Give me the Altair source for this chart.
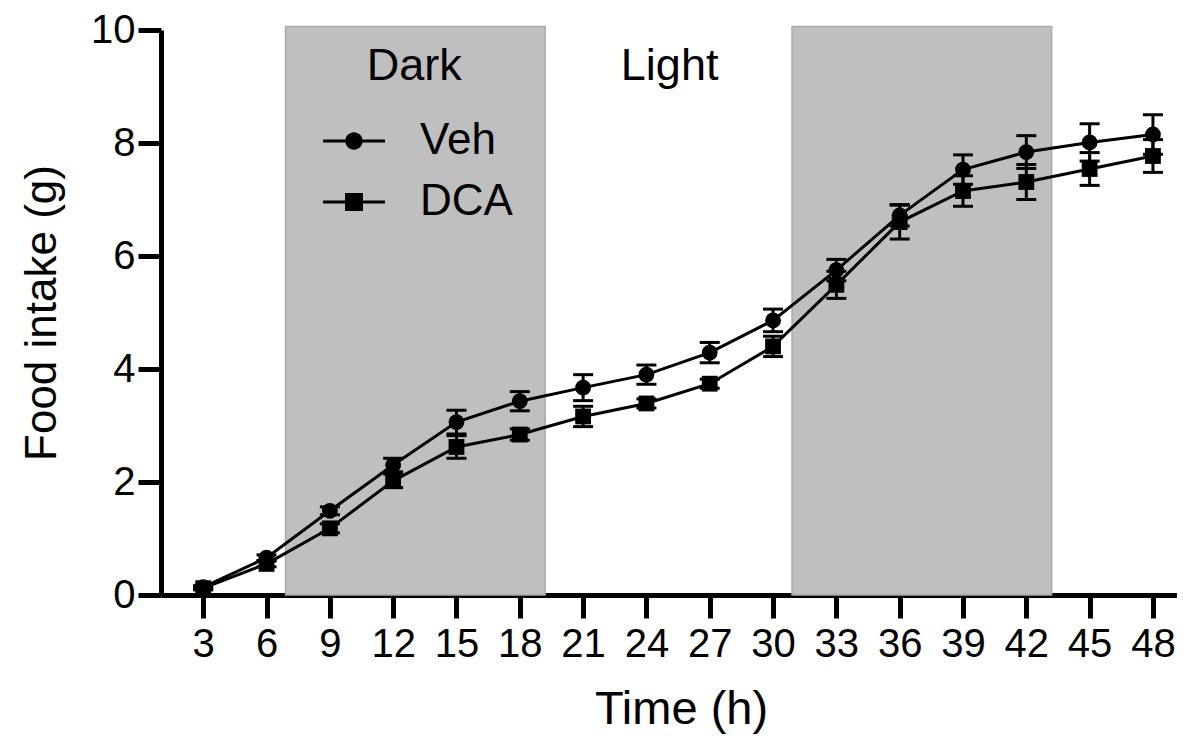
import altair as alt
import pandas as pd

# ---- data ----
hours = [3, 6, 9, 12, 15, 18, 21, 24, 27, 30, 33, 36, 39, 42, 45, 48]
veh_mean = [0.14, 0.66, 1.49, 2.30, 3.06, 3.43, 3.67, 3.90, 4.29, 4.86, 5.75, 6.72, 7.53, 7.84, 8.01, 8.15]
veh_sem = [0.03, 0.05, 0.07, 0.12, 0.21, 0.17, 0.23, 0.17, 0.18, 0.20, 0.19, 0.19, 0.26, 0.29, 0.33, 0.35]
dca_mean = [0.12, 0.55, 1.18, 2.02, 2.62, 2.84, 3.16, 3.39, 3.74, 4.40, 5.49, 6.60, 7.15, 7.31, 7.54, 7.77]
dca_sem = [0.03, 0.05, 0.08, 0.12, 0.20, 0.10, 0.18, 0.08, 0.08, 0.18, 0.24, 0.30, 0.27, 0.31, 0.29, 0.29]
groups = ["Veh", "DCA"]

dark_start = [6.9, 30.9]
dark_end = [19.2, 43.2]
dark_top = 10.06

phase_labels = ["Dark", "Light"]
phase_x = [13.0, 25.1]
phase_y = [9.12, 9.12]

x_ticks = hours
y_ticks = [0, 2, 4, 6, 8, 10]

# ---- tables ----
rows = []
for g, m, s in (("Veh", veh_mean, veh_sem), ("DCA", dca_mean, dca_sem)):
    for h, mv, sv in zip(hours, m, s):
        rows.append({"time": h, "group": g, "mean": mv, "lo": mv - sv, "hi": mv + sv})
df = pd.DataFrame(rows)
shade_df = pd.DataFrame({"x": dark_start, "x2": dark_end, "y": [0, 0], "y2": [dark_top, dark_top]})
label_df = pd.DataFrame({"text": phase_labels, "x": phase_x, "y": phase_y})

FONT = "Liberation Sans"

xscale = alt.Scale(domain=[1, 49.14], nice=False, zero=False)
yscale = alt.Scale(domain=[0, 10], nice=False)

x_enc = alt.X("time:Q", scale=xscale,
              axis=alt.Axis(values=x_ticks, format="d", title="Time (h)", titleX=520))
y_enc = alt.Y("mean:Q", scale=yscale,
              axis=alt.Axis(values=y_ticks, format="d", title="Food intake (g)"))

shade = alt.Chart(shade_df).mark_rect(
    fill="#bfbfbf", stroke="#a9a9a9", strokeWidth=1.5, clip=False
).encode(
    x=alt.X("x:Q", scale=xscale), x2="x2:Q",
    y=alt.Y("y:Q", scale=yscale), y2="y2:Q"
)

phase_text = alt.Chart(label_df).mark_text(
    font=FONT, fontSize=45, color="black", baseline="alphabetic", align="center"
).encode(
    x=alt.X("x:Q", scale=xscale), y=alt.Y("y:Q", scale=yscale), text="text:N"
)

base = alt.Chart(df)

lines = base.mark_line(color="black", strokeWidth=3).encode(
    x=x_enc, y=y_enc, detail="group:N"
)

err_rule = base.mark_rule(color="black", strokeWidth=3, opacity=1).encode(
    x="time:Q", y="lo:Q", y2="hi:Q"
)
err_hi = base.mark_tick(color="black", orient="horizontal", size=20, thickness=3,
                        opacity=1).encode(
    x="time:Q", y="hi:Q"
)
err_lo = base.mark_tick(color="black", orient="horizontal", size=20, thickness=3,
                        opacity=1).encode(
    x="time:Q", y="lo:Q"
)

points = base.mark_point(filled=True, color="black", opacity=1, size=250).encode(
    x="time:Q", y="mean:Q",
    shape=alt.Shape("group:N", scale=alt.Scale(domain=groups, range=["circle", "square"]),
                    legend=None)
)

# legend symbols: line with marker
path_veh = ("M-1,-0.05H1V0.05H-1Z "
            "M-0.28,0A0.28,0.28 0 1,1 0.28,0A0.28,0.28 0 1,1 -0.28,0Z")
path_dca = ("M-1,-0.05H1V0.05H-1Z "
            "M-0.29,-0.29H0.29V0.29H-0.29Z")

legend_layer = base.mark_point(filled=True, color="black", opacity=0).encode(
    x="time:Q", y="mean:Q",
    shape=alt.Shape("group:N",
                    scale=alt.Scale(domain=groups, range=[path_veh, path_dca]),
                    legend=alt.Legend(
                        title=None, orient="none", legendX=162, legendY=80,
                        symbolSize=3844, symbolFillColor="black",
                        symbolStrokeColor="black", symbolStrokeWidth=0,
                        symbolOpacity=1, labelFont=FONT, labelFontSize=44,
                        labelColor="black", labelOffset=35, rowPadding=8,
                        padding=0
                    ))
)

chart = alt.layer(
    shade, phase_text, lines, err_rule, err_hi, err_lo, points, legend_layer
).resolve_scale(
    shape="independent"
).properties(
    width=1016, height=565,
    autosize=alt.AutoSizeParams(type="none"),
    padding={"left": 153, "top": 22, "right": 0, "bottom": 143}
).configure_view(
    stroke=None
).configure_axis(
    grid=False, domainColor="black", domainWidth=5, tickColor="black",
    tickWidth=5, tickSize=23, labelColor="black", titleColor="black",
    labelFont=FONT, titleFont=FONT, labelFontSize=40, titleFontWeight="normal",
    zindex=1
).configure_axisX(
    labelPadding=6, titleFontSize=47, titlePadding=22
).configure_axisY(
    labelPadding=3, titleFontSize=44, titlePadding=26
)

chart.save("out.html", embed_options={"renderer": "svg", "actions": False})
